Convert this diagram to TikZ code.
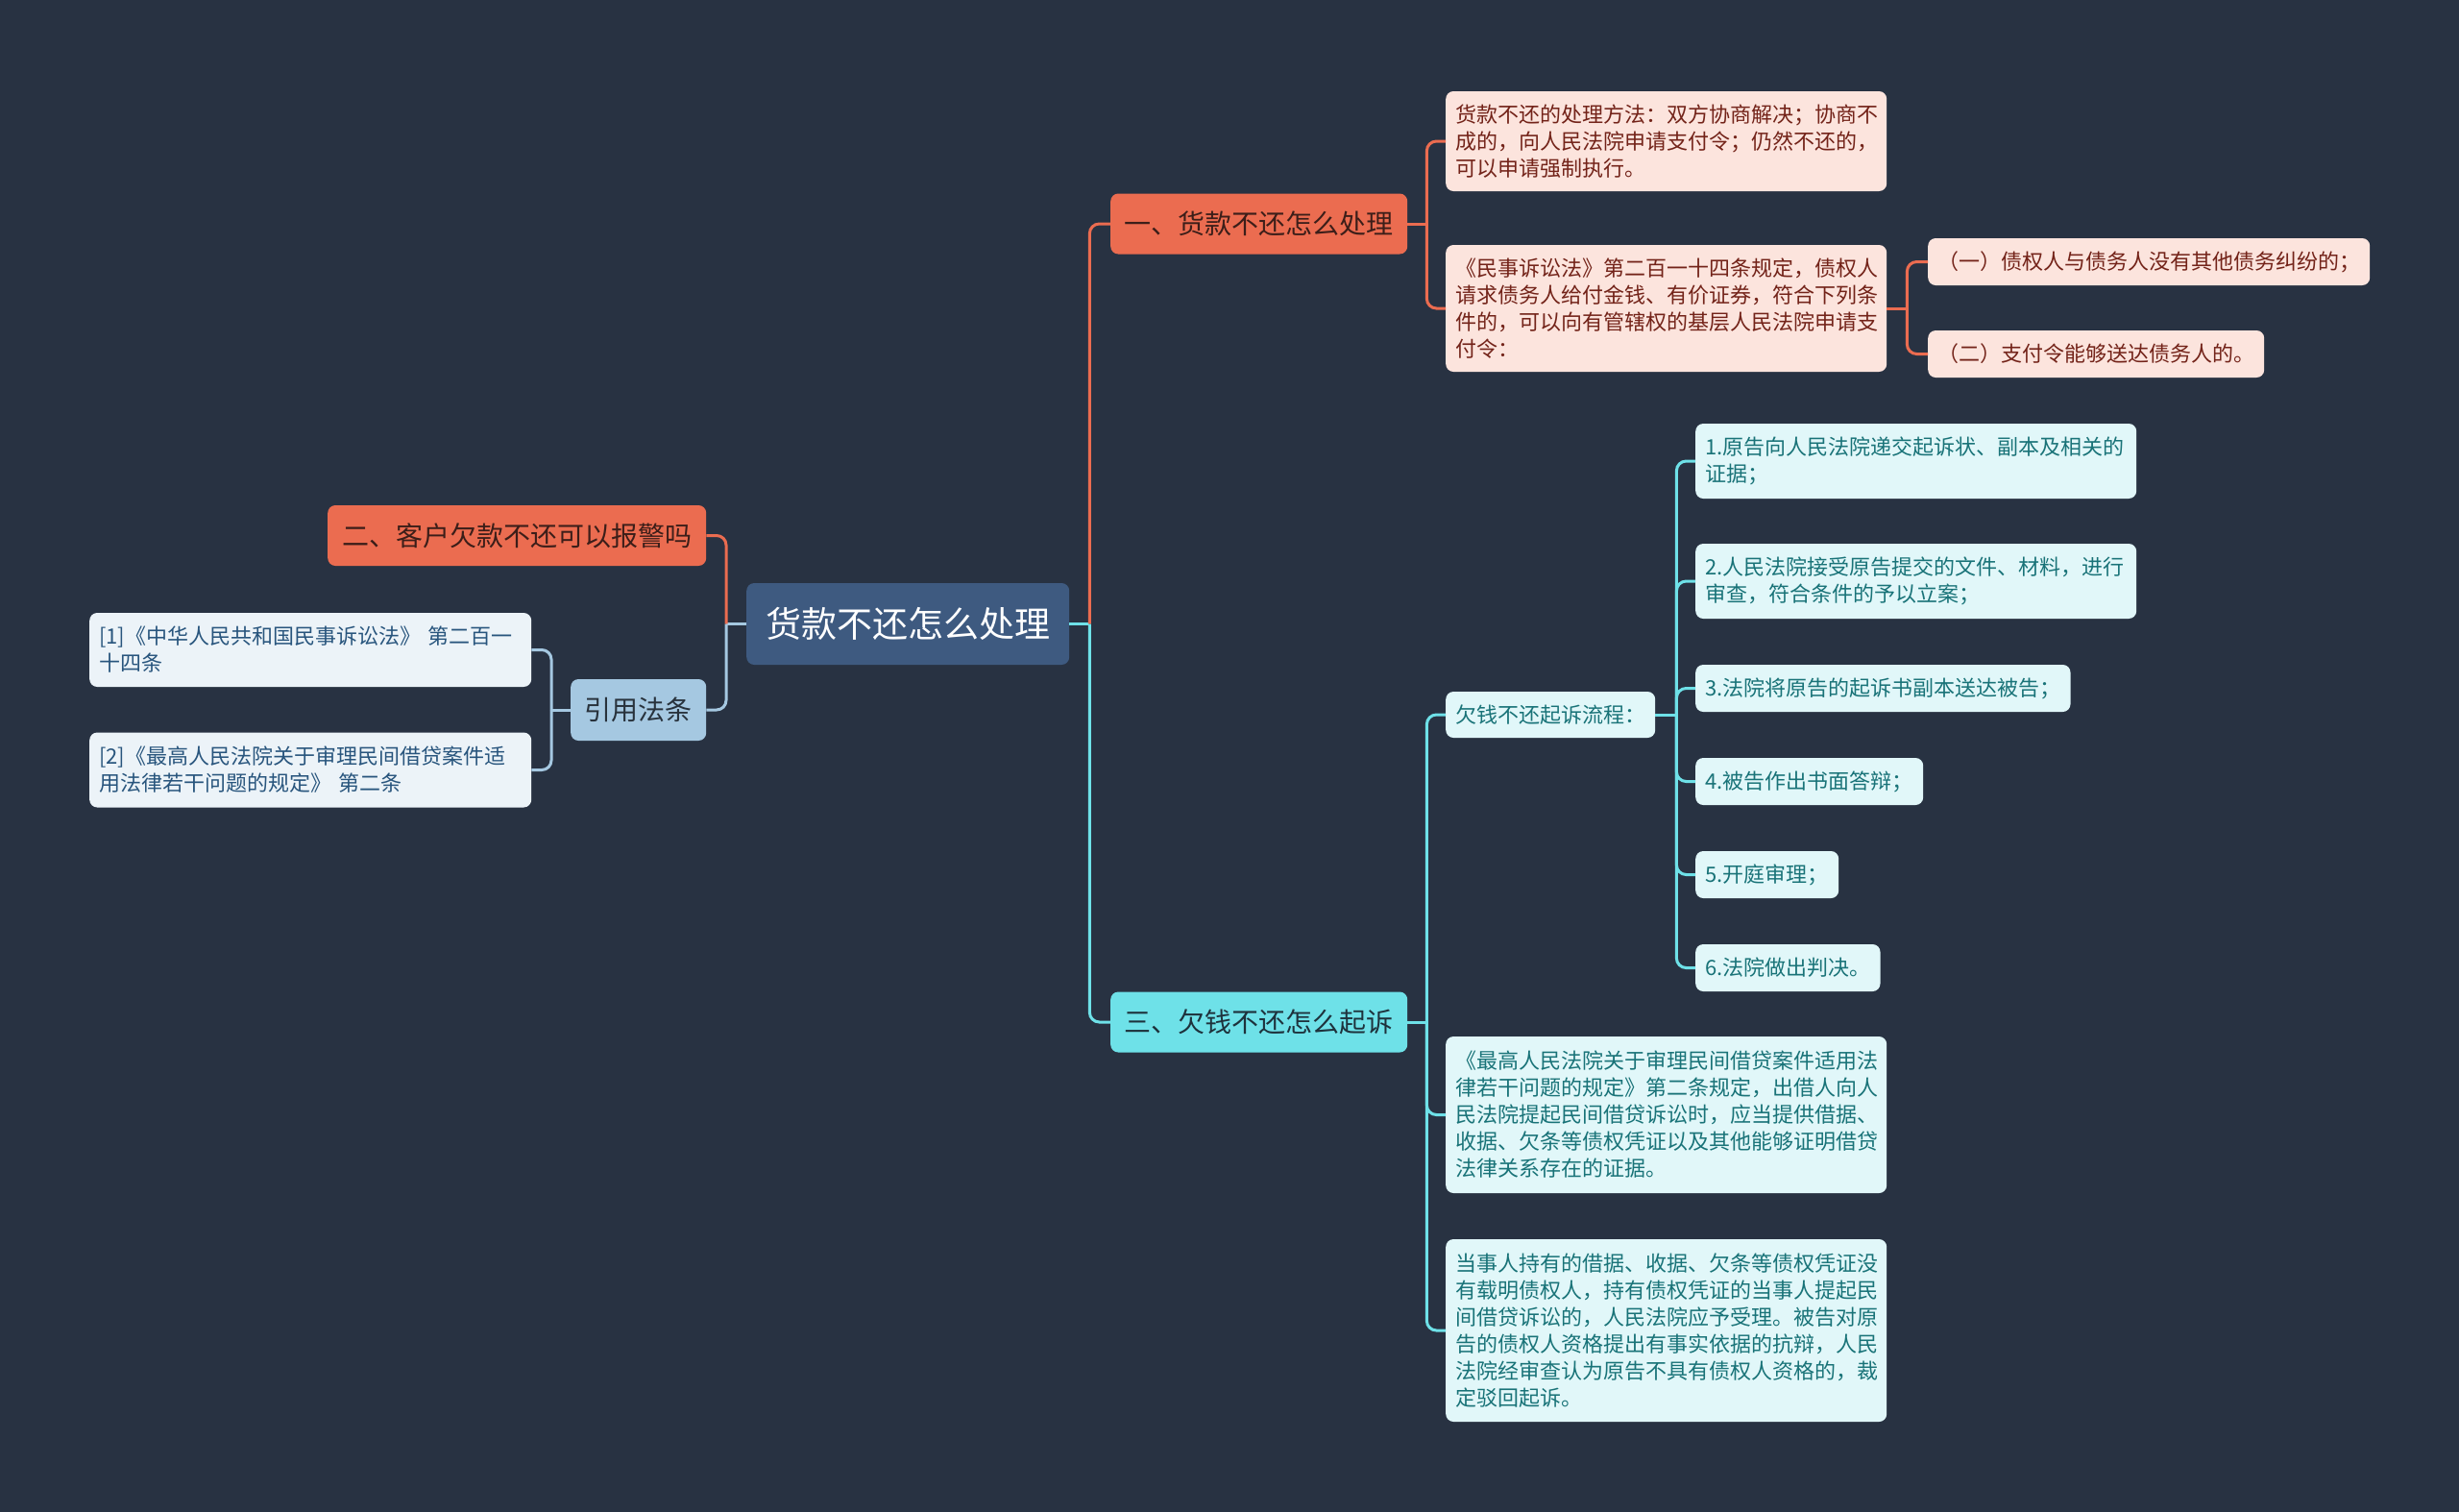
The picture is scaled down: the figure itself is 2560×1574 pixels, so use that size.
\documentclass[tikz,border=0pt]{standalone}
\usepackage{fontspec}
\setmainfont{Noto Sans CJK SC}
\usepackage{tikz}
\definecolor{bg-navy}{RGB}{40,50,66}
\definecolor{root-blue}{RGB}{62,90,128}
\definecolor{topic-red}{RGB}{235,108,80}
\definecolor{topic-cyan}{RGB}{110,225,232}
\definecolor{topic-blue}{RGB}{165,200,225}
\definecolor{note-peach}{RGB}{252,228,221}
\definecolor{note-cyan}{RGB}{225,247,249}
\definecolor{note-blue}{RGB}{236,243,248}
\definecolor{text-brown}{RGB}{115,35,25}
\definecolor{text-teal}{RGB}{25,115,120}
\definecolor{text-blue}{RGB}{40,85,125}

\begin{document}
\begin{tikzpicture}[x=1pt, y=-1pt,
  box/.style={anchor=west, rounded corners=8pt, inner xsep=10pt, inner ysep=0pt,
    font=\fontsize{22}{28}\selectfont},
  rootbox/.style={box, fill=root-blue, text=white, font=\fontsize{37}{44}\selectfont,
    minimum width=336pt, minimum height=85pt},
  redtopic/.style={box, fill=topic-red, text={rgb,255:red,60;green,30;blue,25},
    font=\fontsize{28}{34}\selectfont, minimum height=63pt},
  cyantopic/.style={box, fill=topic-cyan, text={rgb,255:red,30;green,50;blue,60},
    font=\fontsize{28}{34}\selectfont, minimum height=63pt},
  bluetopic/.style={box, fill=topic-blue, text={rgb,255:red,40;green,50;blue,60},
    font=\fontsize{28}{34}\selectfont, minimum height=64pt},
  rednote/.style={box, fill=note-peach, text=text-brown, align=left},
  cyannote/.style={box, fill=note-cyan, text=text-teal, align=left},
  bluenote/.style={box, fill=note-blue, text=text-blue, align=left},
  link/.style={line width=3pt},
  elbow/.style={line width=3pt, rounded corners=10pt}]

  % background
  \fill[bg-navy] (0,0) rectangle (2560,1574);
  \useasboundingbox (0,0) rectangle (2560,1574);

  % centre
  \node[rootbox] (root) at (777,649.5) {货款不还怎么处理};

  % first level
  \node[redtopic, minimum width=309pt] (ans) at (1156,233) {一、货款不还怎么处理};
  \node[cyantopic, minimum width=309pt] (sue) at (1156,1064) {三、欠钱不还怎么起诉};
  \node[redtopic, minimum width=394pt] (police) at (341,557.5) {二、客户欠款不还可以报警吗};
  \node[bluetopic, minimum width=141pt] (law) at (594,739) {引用法条};

  % branch one
  \node[rednote, text width=439pt, minimum height=104pt] (way) at (1505,147)
    {货款不还的处理方法：双方协商解决；协商不\\成的，向人民法院申请支付令；仍然不还的，\\可以申请强制执行。};
  \node[rednote, text width=439pt, minimum height=132pt] (order) at (1505,321)
    {《民事诉讼法》第二百一十四条规定，债权人\\请求债务人给付金钱、有价证券，符合下列条\\件的，可以向有管辖权的基层人民法院申请支\\付令：};
  \node[rednote, minimum width=458pt, minimum height=49pt] (cond1) at (2007,272.5)
    {（一）债权人与债务人没有其他债务纠纷的；};
  \node[rednote, minimum width=349pt, minimum height=49pt] (cond2) at (2007,368.5)
    {（二）支付令能够送达债务人的。};

  % branch three
  \node[cyannote, minimum width=217pt, minimum height=48pt] (flow) at (1505,744) {欠钱不还起诉流程：};
  \node[cyannote, text width=439pt, minimum height=78pt] (s1) at (1765,480)
    {1.原告向人民法院递交起诉状、副本及相关的\\证据；};
  \node[cyannote, text width=439pt, minimum height=78pt] (s2) at (1765,605)
    {2.人民法院接受原告提交的文件、材料，进行\\审查，符合条件的予以立案；};
  \node[cyannote, minimum width=390pt, minimum height=49pt] (s3) at (1765,716.5) {3.法院将原告的起诉书副本送达被告；};
  \node[cyannote, minimum width=237pt, minimum height=49pt] (s4) at (1765,813.5) {4.被告作出书面答辩；};
  \node[cyannote, minimum width=149pt, minimum height=49pt] (s5) at (1765,910.5) {5.开庭审理；};
  \node[cyannote, minimum width=192pt, minimum height=49pt] (s6) at (1765,1007.5) {6.法院做出判决。};
  \node[cyannote, text width=439pt, minimum height=163pt] (rule) at (1505,1160.5)
    {《最高人民法院关于审理民间借贷案件适用法\\律若干问题的规定》第二条规定，出借人向人\\民法院提起民间借贷诉讼时，应当提供借据、\\收据、欠条等债权凭证以及其他能够证明借贷\\法律关系存在的证据。};
  \node[cyannote, text width=439pt, minimum height=190pt] (holder) at (1505,1385)
    {当事人持有的借据、收据、欠条等债权凭证没\\有载明债权人，持有债权凭证的当事人提起民\\间借贷诉讼的，人民法院应予受理。被告对原\\告的债权人资格提出有事实依据的抗辩，人民\\法院经审查认为原告不具有债权人资格的，裁\\定驳回起诉。};

  % cited laws
  \node[bluenote, text width=440pt, minimum height=77pt] (ref1) at (93,676.5)
    {[1]《中华人民共和国民事诉讼法》 第二百一\\十四条};
  \node[bluenote, text width=440pt, minimum height=78pt] (ref2) at (93,801.5)
    {[2]《最高人民法院关于审理民间借贷案件适\\用法律若干问题的规定》 第二条};

  % connectors, right side
  \draw[link, topic-cyan] (root.east) -- ++(21,0);
  \draw[elbow, topic-red] ([xshift=21pt]root.east) |- (ans.west);
  \draw[elbow, topic-cyan] ([xshift=21pt]root.east) |- (sue.west);

  \draw[link, topic-red] (ans.east) -- ++(20,0);
  \foreach \c in {way, order}
    \draw[elbow, topic-red] ([xshift=20pt]ans.east) |- (\c.west);
  \draw[link, topic-red] (order.east) -- ++(21,0);
  \foreach \c in {cond1, cond2}
    \draw[elbow, topic-red] ([xshift=21pt]order.east) |- (\c.west);

  \draw[link, topic-cyan] (sue.east) -- ++(20,0);
  \foreach \c in {flow, rule, holder}
    \draw[elbow, topic-cyan] ([xshift=20pt]sue.east) |- (\c.west);
  \draw[link, topic-cyan] (flow.east) -- ++(22,0);
  \foreach \c in {s1, s2, s3, s4, s5, s6}
    \draw[elbow, topic-cyan] ([xshift=22pt]flow.east) |- (\c.west);

  % connectors, left side
  \draw[link, topic-blue] (root.west) -- ++(-21,0);
  \draw[elbow, topic-red] ([xshift=-21pt]root.west) |- (police.east);
  \draw[elbow, topic-blue] ([xshift=-21pt]root.west) |- (law.east);
  \draw[link, topic-blue] (law.west) -- ++(-20,0);
  \foreach \c in {ref1, ref2}
    \draw[elbow, topic-blue] ([xshift=-20pt]law.west) |- (\c.east);
\end{tikzpicture}
\end{document}
